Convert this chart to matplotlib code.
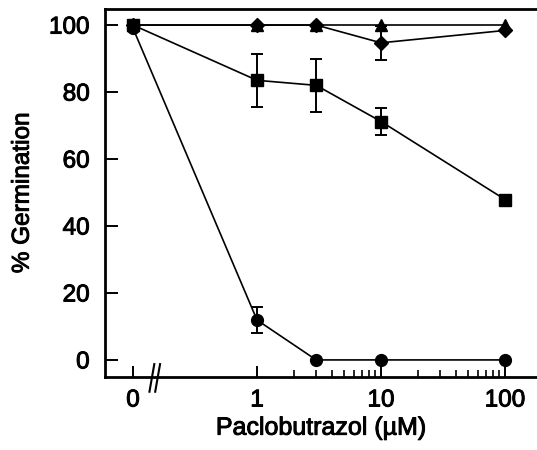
import numpy as np
import matplotlib
matplotlib.use("Agg")
import matplotlib.pyplot as plt
from matplotlib.ticker import FixedLocator, NullFormatter
import matplotlib.transforms as mtransforms
import matplotlib.patheffects as pe

plt.rcParams['font.family'] = ['Liberation Sans', 'DejaVu Sans']

# --- Data (0 uM is drawn at 0.1 on the log axis, behind the break) ---
conc = [0, 1, 3, 10, 100]
conc_labels = ["0", "1", "10", "100"]

triangle = [100, 100, 100, 100, 100]
diamond = [100, 100, 100, 94.7, 98.4]
diamond_err = [0, 0, 0, 5, 0]
square = [100, 83.5, 82, 71.2, 47.9]
square_err = [0, 8, 8, 4, 0]
circle = [99, 11.9, 0, 0, 0]
circle_err = [0, 3.8, 0, 0, 0]

x = np.array([0.1 if c == 0 else c for c in conc], dtype=float)

fig = plt.figure(figsize=(5.37, 4.5), dpi=100)
ax = fig.add_axes([105 / 537, 73 / 450, 1 - 105 / 537, 368 / 450])

style = dict(color='black', lw=1.2, capsize=4.3, capthick=1.4, elinewidth=1.4)
ax.errorbar(x, circle, yerr=circle_err, marker='o', ms=8.5, **style)
ax.errorbar(x, square, yerr=square_err, marker='s', ms=8.5, **style)
ax.errorbar(x, diamond, yerr=diamond_err, marker='D', ms=7, **style)
ax.plot(x, triangle, marker='^', ms=8, color='black', lw=1.2)

ax.set_xscale('log')
ax.set_xlim(0.0594, 181)
ax.set_ylim(-5.1, 104.8)

ax.xaxis.set_major_locator(FixedLocator([0.1, 1, 10, 100]))
ax.set_xticklabels(conc_labels)
minors = [m * d for d in (1, 10) for m in range(2, 10)]
ax.xaxis.set_minor_locator(FixedLocator(minors))
ax.xaxis.set_minor_formatter(NullFormatter())
ax.set_yticks([0, 20, 40, 60, 80, 100])

heavy = [pe.withStroke(linewidth=0.7, foreground='black')]
ax.tick_params(axis='both', which='major', direction='in', length=8, width=1.4,
               labelsize=17.5, colors='black')
ax.tick_params(axis='y', which='major', length=9, pad=11)
ax.tick_params(axis='x', which='major', pad=9)
ax.tick_params(axis='x', which='minor', direction='in', length=5, width=1.2)
for lab in ax.get_xticklabels() + ax.get_yticklabels():
    lab.set_path_effects(heavy)

for side in ('left', 'bottom', 'top'):
    ax.spines[side].set_linewidth(2.0)
ax.spines['right'].set_visible(False)

# axis break mark "//"
trans = mtransforms.blended_transform_factory(ax.transData, ax.transAxes)
for xb in (0.142, 0.158):
    ax.plot([xb * 0.955, xb * 1.045], [-0.04, 0.035], color='black', lw=1.5,
            transform=trans, clip_on=False)

ax.set_xlabel('Paclobutrazol (µM)', fontsize=18, labelpad=3,
              path_effects=heavy)
ax.set_ylabel('% Germination', fontsize=17.5, labelpad=11,
              path_effects=heavy)

fig.savefig('out.png', dpi=100, facecolor='white')
